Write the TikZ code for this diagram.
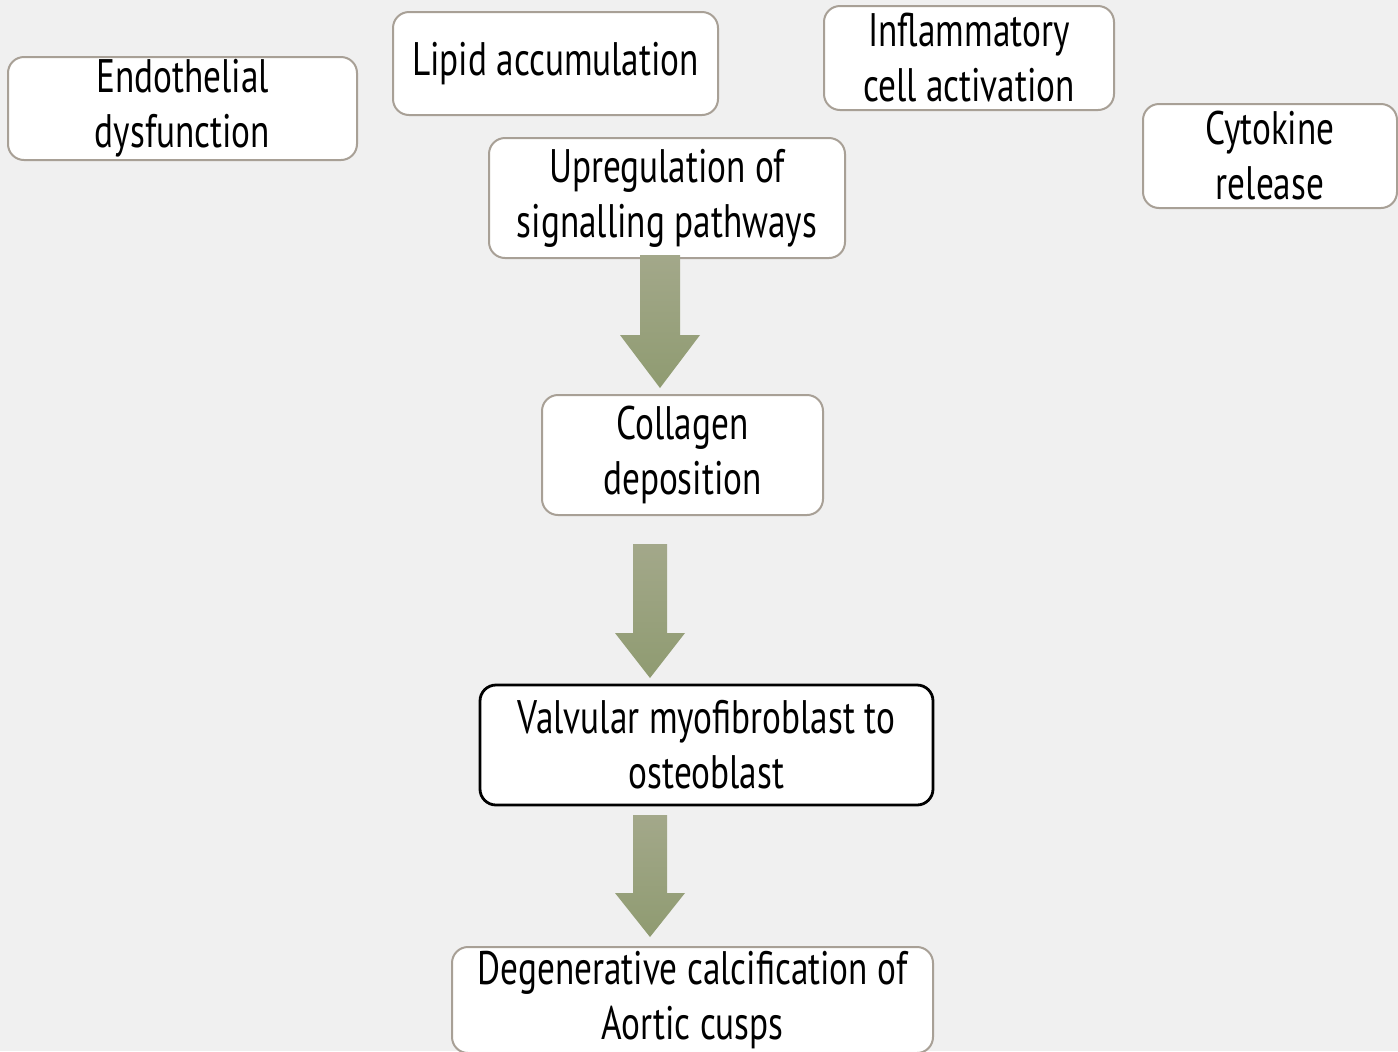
\documentclass[tikz,border=0pt]{standalone}
\usepackage{fontspec}
\setmainfont[FakeStretch=0.75]{PT Sans}
\definecolor{bggray}{RGB}{240,240,240}
\definecolor{boxgray}{RGB}{168,160,150}
\definecolor{oliveup}{RGB}{163,168,138}
\definecolor{olivedown}{RGB}{143,155,113}
\newcommand\blockarr[6]{% x, top, head, tip, half shaft, half head
  \path[arrowfill] (#1-#5,#2) -- (#1+#5,#2) -- (#1+#5,#3) -- (#1+#6,#3)
    -- (#1,#4) -- (#1-#6,#3) -- (#1-#5,#3) -- cycle;}
\begin{document}
\begin{tikzpicture}[x=0.5pt, y=-0.5pt,
    box/.style 2 args={draw=boxgray, line width=1pt, fill=white,
      rounded corners=8pt, align=center, inner sep=0pt,
      minimum width=#1, minimum height=#2,
      font=\fontsize{23.5}{27.5}\selectfont},
    keybox/.style={draw=black, line width=1.4pt},
    arrowfill/.style={top color=oliveup, bottom color=olivedown}]

  % page
  \fill[bggray] (0,0) rectangle (1398,1051);
  \useasboundingbox (0,0) rectangle (1398,1051);

  % causes along the top
  \node[box={174.5pt}{51.5pt}] (endo)   at (182.5,108.5) {Endothelial\\dysfunction};
  \node[box={162.5pt}{51.5pt}] (lipid)  at (555.5,63.5)  {Lipid accumulation};
  \node[box={145pt}{52pt}]     (inflam) at (969,58)      {Inflammatory\\cell activation};
  \node[box={127pt}{52pt}]     (cyto)   at (1270,156)    {Cytokine\\release};

  % main chain
  \node[box={178pt}{60pt}]           (upreg) at (667,198)    {Upregulation of\\signalling pathways};
  \node[box={140.5pt}{60pt}]         (coll)  at (682.5,455)  {Collagen\\deposition};
  \node[box={226.5pt}{60pt}, keybox] (valv)  at (706.5,745)  {Valvular myofibroblast to\\osteoblast};
  \node[box={240.5pt}{53pt}]         (degen) at (692.5,1000) {Degenerative calcification of\\Aortic cusps};

  % block arrows
  \blockarr{660}{255}{335}{388}{20}{40}
  \blockarr{650}{544}{633}{678}{17}{35}
  \blockarr{650}{815}{893}{937}{17}{35}
\end{tikzpicture}
\end{document}
